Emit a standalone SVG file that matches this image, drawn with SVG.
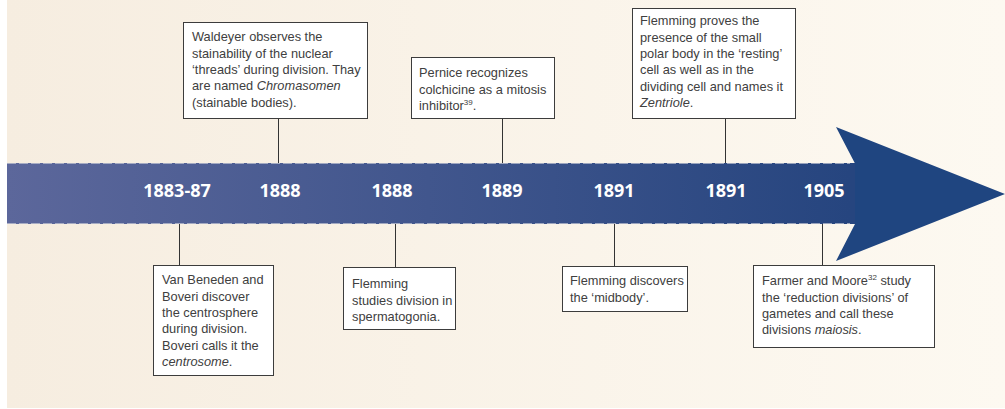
<svg xmlns="http://www.w3.org/2000/svg" width="1005" height="409" viewBox="0 0 1005 409">
<defs>
<linearGradient id="bg" x1="0" y1="0" x2="1" y2="0">
<stop offset="0" stop-color="#f6ede0"/>
<stop offset="1" stop-color="#fdf9f1"/>
</linearGradient>
<linearGradient id="shaft" x1="7" y1="0" x2="850" y2="0" gradientUnits="userSpaceOnUse">
<stop offset="0" stop-color="#5c679b"/>
<stop offset="1" stop-color="#26457f"/>
</linearGradient>
<style>
.box{fill:#ffffff;stroke:#3c3c3c;stroke-width:1}
.t{font-family:"Liberation Sans",Arial,sans-serif;font-size:12.8px;fill:#404040}
.i{font-style:italic}
.sup{font-size:8px}
.yr{font-family:"Open Sans","Liberation Sans",sans-serif;font-weight:700;font-size:18px;fill:#ffffff;text-anchor:middle}
.con{stroke:#333333;stroke-width:1;fill:none}
.dash{stroke:#c9cbd6;stroke-width:1;stroke-dasharray:9 3;opacity:0.7}
</style>
</defs>
<rect x="0" y="0" width="1005" height="409" fill="#ffffff"/>
<rect x="7" y="0" width="998" height="408" fill="url(#bg)"/>
<g id="timeline">
<rect x="7" y="163" width="848" height="61" fill="url(#shaft)"/>
<line class="dash" x1="7" y1="163.5" x2="850" y2="163.5"/>
<line class="dash" x1="7" y1="223.5" x2="850" y2="223.5"/>
<polygon points="836,127 855,163.5 855,224 836,261 1005,194" fill="#1f4580"/>
<text class="yr" x="177" y="197">1883-87</text>
<text class="yr" x="280" y="197">1888</text>
<text class="yr" x="392" y="197">1888</text>
<text class="yr" x="502" y="197">1889</text>
<text class="yr" x="614" y="197">1891</text>
<text class="yr" x="726" y="197">1891</text>
<text class="yr" x="824" y="197">1905</text>
</g>
<g id="connectors">
<line class="con" x1="278.5" y1="118" x2="278.5" y2="163"/>
<line class="con" x1="502.5" y1="119" x2="502.5" y2="163"/>
<line class="con" x1="725.5" y1="118" x2="725.5" y2="163"/>
<line class="con" x1="179.5" y1="224" x2="179.5" y2="265"/>
<line class="con" x1="395.5" y1="224" x2="395.5" y2="267"/>
<line class="con" x1="614.5" y1="224" x2="614.5" y2="266"/>
<line class="con" x1="822.5" y1="224" x2="822.5" y2="265"/>
</g>
<g id="waldeyer">
<rect class="box" x="183.5" y="22.5" width="184" height="96"/>
<text class="t" x="192" y="41">Waldeyer observes the</text>
<text class="t" x="192" y="57.5">stainability of the nuclear</text>
<text class="t" x="192" y="74">‘threads’ during division. Thay</text>
<text class="t" x="192" y="90">are named <tspan class="i">Chromasomen</tspan></text>
<text class="t" x="192" y="106.5">(stainable bodies).</text>
</g>
<g id="pernice">
<rect class="box" x="411.5" y="57.5" width="143" height="61"/>
<text class="t" x="419" y="77">Pernice recognizes</text>
<text class="t" x="419" y="93.5">colchicine as a mitosis</text>
<text class="t" x="419" y="110">inhibitor<tspan class="sup" dy="-5">39</tspan><tspan dy="5">.</tspan></text>
</g>
<g id="flemming-zentriole">
<rect class="box" x="632.5" y="8.5" width="163" height="110"/>
<text class="t" x="640" y="25">Flemming proves the</text>
<text class="t" x="640" y="41.5">presence of the small</text>
<text class="t" x="640" y="58">polar body in the ‘resting’</text>
<text class="t" x="640" y="74">cell as well as in the</text>
<text class="t" x="640" y="90.5">dividing cell and names it</text>
<text class="t" x="640" y="107"><tspan class="i">Zentriole</tspan>.</text>
</g>
<g id="van-beneden">
<rect class="box" x="153.5" y="265.5" width="120" height="110"/>
<text class="t" x="162" y="284">Van Beneden and</text>
<text class="t" x="162" y="300.5">Boveri discover</text>
<text class="t" x="162" y="317">the centrosphere</text>
<text class="t" x="162" y="333">during division.</text>
<text class="t" x="162" y="349.5">Boveri calls it the</text>
<text class="t" x="162" y="366"><tspan class="i">centrosome</tspan>.</text>
</g>
<g id="flemming-spermatogonia">
<rect class="box" x="343.5" y="267.5" width="112" height="62"/>
<text class="t" x="352" y="288">Flemming</text>
<text class="t" x="352" y="304.5">studies division in</text>
<text class="t" x="352" y="321">spermatogonia.</text>
</g>
<g id="flemming-midbody">
<rect class="box" x="562.5" y="266.5" width="125" height="45"/>
<text class="t" x="570" y="285">Flemming discovers</text>
<text class="t" x="570" y="301.5">the ‘midbody’.</text>
</g>
<g id="farmer-moore">
<rect class="box" x="753.5" y="265.5" width="181" height="82"/>
<text class="t" x="762" y="285">Farmer and Moore<tspan class="sup" dy="-5">32</tspan><tspan dy="5"> study</tspan></text>
<text class="t" x="762" y="301.5">the ‘reduction divisions’ of</text>
<text class="t" x="762" y="318">gametes and call these</text>
<text class="t" x="762" y="334">divisions <tspan class="i">maiosis</tspan>.</text>
</g>
</svg>
